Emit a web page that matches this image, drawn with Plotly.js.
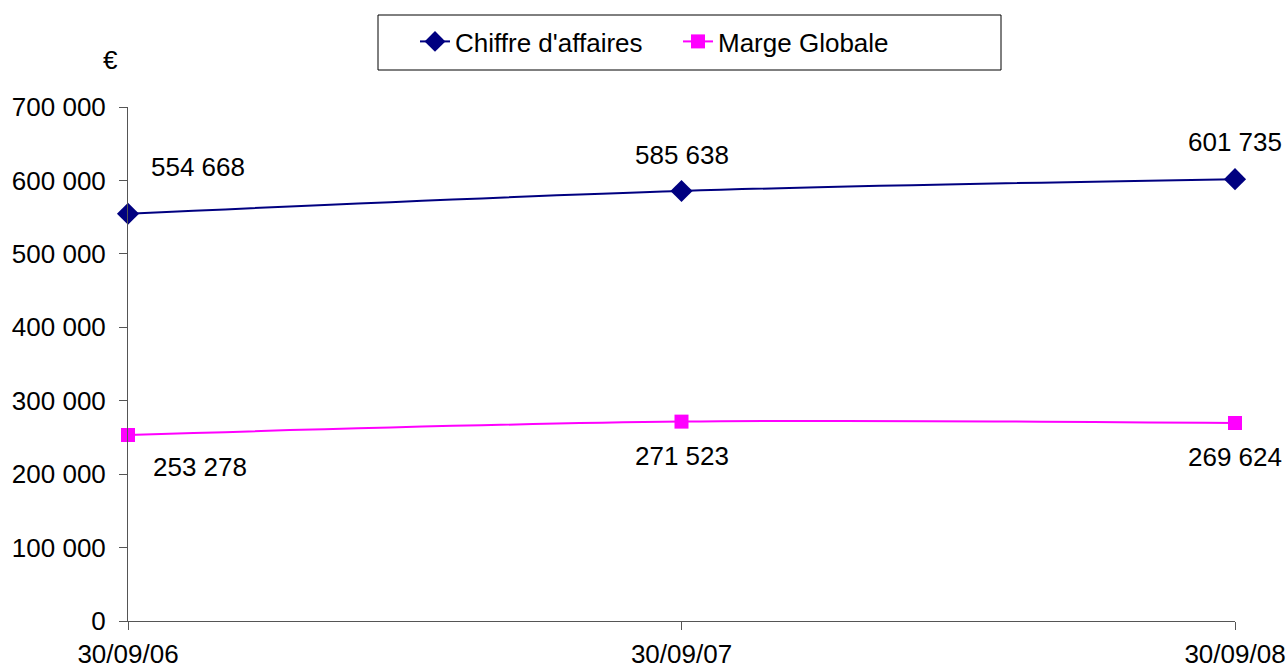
<!DOCTYPE html>
<html><head><meta charset="utf-8">
<script src="https://cdn.plot.ly/plotly-3.0.1.min.js"></script>
<style>html,body{margin:0;padding:0;background:#fff}#chart{width:1287px;height:670px}</style>
</head><body><div id="chart"></div>
<script>
const dates = ["30/09/06", "30/09/07", "30/09/08"];
const chiffreAffaires = [554668, 585638, 601735];
const margeGlobale = [253278, 271523, 269624];
const yTicks = [0, 100000, 200000, 300000, 400000, 500000, 600000, 700000];

function fmt(v){ return String(v).replace(/\B(?=(\d{3})+(?!\d))/g, " "); }

const FONT = "Liberation Sans, Arial, sans-serif";
const FS = 26;
const L = 128, R = 52, T = 107, B = 49, W = 1287, H = 670;
const PW = W - L - R, PH = H - T - B;
const px = x => (x - L) / PW;
const py = y => (H - B - y) / PH;

const caShift = [[70,-47],[0,-36],[0,-37]];
const mgShift = [[72,32],[0,34],[0,34]];
const annotations = [];
dates.forEach((d,i)=>{
  annotations.push({x:d, y:chiffreAffaires[i], xref:'x', yref:'y', text:fmt(chiffreAffaires[i]), showarrow:false,
    xshift:caShift[i][0], yshift:-caShift[i][1], font:{family:FONT,size:FS,color:'#000'}});
  annotations.push({x:d, y:margeGlobale[i], xref:'x', yref:'y', text:fmt(margeGlobale[i]), showarrow:false,
    xshift:mgShift[i][0], yshift:-mgShift[i][1], font:{family:FONT,size:FS,color:'#000'}});
});
annotations.push({xref:'paper', yref:'paper', x:px(110), y:py(60), text:'€', showarrow:false,
  xanchor:'center', yanchor:'middle', font:{family:FONT,size:FS,color:'#000'}});

const traces = [
  {x:dates, y:chiffreAffaires, type:'scatter', mode:'lines+markers', name:"Chiffre d'affaires",
   line:{color:'#000080', width:2, shape:'spline'}, marker:{symbol:'diamond', size:17, color:'#000080'}, cliponaxis:false},
  {x:dates, y:margeGlobale, type:'scatter', mode:'lines+markers', name:'Marge Globale',
   line:{color:'#FF00FF', width:2, shape:'spline'}, marker:{symbol:'square', size:14, color:'#FF00FF'}, cliponaxis:false}
];

const layout = {
  width:W, height:H,
  margin:{l:L, r:R, t:T, b:B},
  paper_bgcolor:'#fff', plot_bgcolor:'#fff',
  separators:', ',
  font:{family:FONT, size:FS, color:'#000'},
  showlegend:true,
  legend:{orientation:'h', x:px(415), xanchor:'left', y:py(18), yanchor:'top',
    borderwidth:0, bgcolor:'rgba(0,0,0,0)', font:{family:FONT,size:FS,color:'#000'},
    entrywidth:218, entrywidthmode:'pixels', traceorder:'normal'},
  shapes:[{type:'rect', xref:'paper', yref:'paper', x0:px(378), x1:px(1001), y0:py(70), y1:py(15),
    line:{color:'#000', width:1}, fillcolor:'rgba(0,0,0,0)', layer:'below'}],
  xaxis:{type:'category', range:[0,2], showgrid:false, zeroline:false, showline:true, linecolor:'#555', linewidth:1,
    ticks:'outside', ticklen:8, tickcolor:'#555', tickfont:{family:FONT,size:FS,color:'#000'}, ticklabelstandoff:2, fixedrange:true},
  yaxis:{range:[0,700000], tickvals:yTicks, tickformat:',d', showgrid:false, zeroline:false, showline:true, linecolor:'#555', linewidth:1,
    ticks:'outside', ticklen:8, tickcolor:'#555', tickfont:{family:FONT,size:FS,color:'#000'}, ticklabelstandoff:8, fixedrange:true},
  annotations:annotations
};

Plotly.newPlot('chart', traces, layout, {displayModeBar:false, staticPlot:true});
</script></body></html>
